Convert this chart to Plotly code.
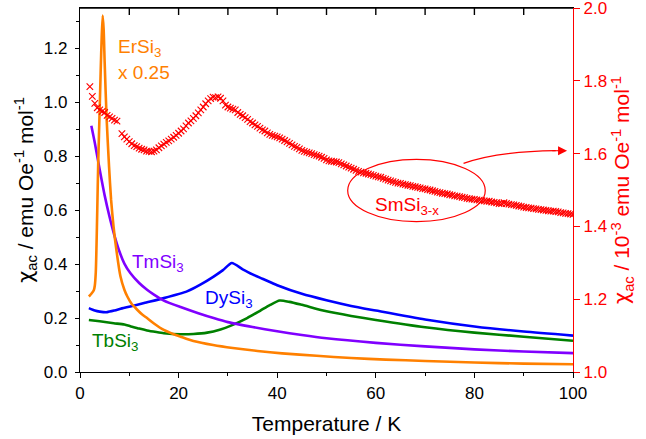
import plotly.graph_objects as go

# ---------------- data ----------------
# ErSi3 (scaled x0.25), left axis
er_T = [1.8, 2.3, 2.8, 3.0, 3.2, 3.35, 3.5, 3.7, 4.0, 4.2, 4.4, 4.6, 4.8, 5.0, 5.4, 5.9, 6.3, 6.8,
        7.4, 8.2, 9.0, 9.6, 10.5, 11.6, 12.5, 13.6, 15.0, 17.0, 19.0, 20.4, 23.0, 27.0, 31.0,
        36.0, 41.0, 48.0, 55.0, 62.0, 70.0, 80.0, 90.0, 100.0]
er_chi = [0.280, 0.290, 0.303, 0.320, 0.370, 0.470, 0.600, 0.780, 0.980, 1.120, 1.240, 1.322,
          1.270, 1.150, 0.940, 0.760, 0.640, 0.540, 0.450, 0.355, 0.305, 0.280, 0.252, 0.231,
          0.215, 0.200, 0.180, 0.156, 0.140, 0.131, 0.115, 0.100, 0.089, 0.078, 0.069, 0.060,
          0.052, 0.046, 0.041, 0.035, 0.031, 0.029]

# TmSi3, left axis
tm_T = [2.3, 3.0, 4.0, 5.0, 6.0, 7.0, 8.0, 9.0, 10.2, 12.0, 13.6, 15.0, 17.0, 20.4, 24.0, 27.1,
        30.0, 35.0, 40.0, 45.0, 50.0, 60.0, 70.0, 80.0, 90.0, 100.0]
tm_chi = [0.913, 0.850, 0.750, 0.655, 0.575, 0.505, 0.447, 0.402, 0.367, 0.330, 0.305, 0.287,
          0.265, 0.241, 0.218, 0.200, 0.185, 0.167, 0.151, 0.137, 0.125, 0.108, 0.095, 0.084,
          0.076, 0.070]

# DySi3, left axis
dy_T = [1.8, 3.0, 4.0, 5.5, 7.0, 8.5, 10.2, 13.0, 17.0, 21.7, 24.5, 27.1, 29.0, 30.8, 33.0,
        35.0, 37.0, 40.0, 45.0, 50.0, 55.0, 60.0, 70.0, 80.0, 90.0, 100.0]
dy_chi = [0.237, 0.228, 0.224, 0.222, 0.228, 0.236, 0.243, 0.256, 0.274, 0.299, 0.325, 0.354,
          0.378, 0.404, 0.381, 0.362, 0.346, 0.322, 0.290, 0.266, 0.245, 0.228, 0.195, 0.169,
          0.150, 0.135]

# TbSi3, left axis
tb_T = [1.8, 4.0, 6.85, 9.0, 10.2, 12.0, 13.6, 15.5, 17.0, 20.4, 23.0, 25.8, 28.5, 30.5, 33.9,
        36.6, 38.5, 40.5, 42.5, 45.0, 50.0, 55.0, 60.0, 70.0, 80.0, 90.0, 100.0]
tb_chi = [0.193, 0.188, 0.181, 0.176, 0.170, 0.161, 0.154, 0.148, 0.144, 0.140, 0.141, 0.146,
          0.158, 0.171, 0.200, 0.228, 0.248, 0.265, 0.260, 0.249, 0.225, 0.208, 0.193, 0.166,
          0.146, 0.131, 0.116]

# SmSi3-x, right axis (10^-3 emu Oe^-1 mol^-1)
sm_T = [2.0, 2.5, 3.0, 3.5, 4.0, 4.5, 5.0, 5.5, 6.0, 6.5, 7.0, 7.5] + \
       [8.5 + 0.5 * i for i in range(184)]
sm_chi = [
    1.784, 1.757, 1.738, 1.726, 1.720, 1.716, 1.713, 1.705, 1.701, 1.697, 1.692, 1.689,
    1.655, 1.646, 1.640, 1.633, 1.627, 1.622, 1.619, 1.615, 1.612, 1.610,
    1.607, 1.606, 1.605, 1.607, 1.610, 1.616, 1.621, 1.626, 1.631, 1.635,
    1.640, 1.645, 1.650, 1.656, 1.662, 1.668, 1.676, 1.684, 1.690, 1.697,
    1.704, 1.712, 1.720, 1.728, 1.737, 1.745, 1.751, 1.755, 1.754, 1.756,
    1.752, 1.745, 1.733, 1.728, 1.725, 1.722, 1.720, 1.713, 1.708, 1.704,
    1.699, 1.694, 1.688, 1.684, 1.679, 1.675, 1.670, 1.665, 1.662, 1.657,
    1.653, 1.650, 1.648, 1.646, 1.643, 1.640, 1.636, 1.632, 1.628, 1.624,
    1.620, 1.617, 1.613, 1.609, 1.606, 1.604, 1.602, 1.600, 1.597, 1.595,
    1.593, 1.590, 1.587, 1.583, 1.580, 1.579, 1.578, 1.577, 1.575, 1.572,
    1.569, 1.566, 1.563, 1.560, 1.557, 1.554, 1.551, 1.549, 1.547, 1.546,
    1.544, 1.542, 1.540, 1.538, 1.536, 1.535, 1.532, 1.530, 1.527, 1.525,
    1.523, 1.521, 1.519, 1.518, 1.516, 1.515, 1.513, 1.512, 1.510, 1.509,
    1.507, 1.506, 1.504, 1.503, 1.501, 1.500, 1.498, 1.496, 1.494, 1.493,
    1.491, 1.490, 1.489, 1.487, 1.486, 1.484, 1.483, 1.482, 1.480, 1.479,
    1.477, 1.476, 1.475, 1.474, 1.473, 1.472, 1.471, 1.470, 1.469, 1.469,
    1.467, 1.466, 1.465, 1.463, 1.463, 1.465, 1.463, 1.461, 1.460, 1.459,
    1.458, 1.456, 1.455, 1.453, 1.452, 1.451, 1.450, 1.449, 1.448, 1.447,
    1.446, 1.445, 1.444, 1.443, 1.442, 1.442, 1.441, 1.440, 1.438, 1.437,
    1.436, 1.435, 1.434, 1.433,
]

# axis tick values
x_ticks = [0, 20, 40, 60, 80, 100]
x_top_ticks = [10, 20, 30, 40, 50, 60, 70, 80, 90]
y_ticks = [0.0, 0.2, 0.4, 0.6, 0.8, 1.0, 1.2]
y2_ticks = [1.0, 1.2, 1.4, 1.6, 1.8, 2.0]

ORANGE = "#FF8000"
PURPLE = "#8000FF"
BLUE = "#0000FF"
GREEN = "#008000"
RED = "#FF0000"
FONT = "Liberation Sans, Arial, sans-serif"
CHI = '<span style="font-family:\'DejaVu Sans\'">χ</span>'

PLOT_H = 439 - 8 - 67  # plot-area height in px

fig = go.Figure()

fig.add_trace(go.Scatter(
    x=sm_T, y=sm_chi, mode="markers", xaxis="x", yaxis="y2",
    marker=dict(symbol="x-thin", size=6.5, line=dict(color=RED, width=1.15), color=RED),
))

LW = 2.6
for T, chi, col in [(tb_T, tb_chi, GREEN), (dy_T, dy_chi, BLUE),
                    (tm_T, tm_chi, PURPLE), (er_T, er_chi, ORANGE)]:
    fig.add_trace(go.Scatter(x=T, y=chi, mode="lines", xaxis="x", yaxis="y",
                             line=dict(color=col, width=LW, shape="spline", smoothing=0.6)))

axis_common = dict(showgrid=False, zeroline=False, showline=True, linewidth=1.4)

fig.update_layout(
    width=646, height=439,
    margin=dict(l=80, r=73, t=8, b=67),
    paper_bgcolor="white", plot_bgcolor="white",
    showlegend=False,
    font=dict(family=FONT, size=17, color="black"),
    xaxis=dict(
        **axis_common, linecolor="black", range=[0, 100], type="linear", mirror=True,
        tickvals=x_ticks, ticks="outside", ticklen=5, tickwidth=1.4, tickcolor="black",
        minor=dict(dtick=10, ticks="outside", ticklen=3, tickwidth=1.4, tickcolor="black"),
        tickfont=dict(size=17, color="black"),
        title=dict(text="Temperature / K", font=dict(size=21), standoff=14),
        anchor="y", automargin=False,
    ),
    yaxis=dict(
        **axis_common, linecolor="black", range=[0, 1.35],
        tickvals=y_ticks, ticktext=[f"{v:.1f}" for v in y_ticks],
        ticks="outside", ticklen=4, tickwidth=1.4, tickcolor="black",
        minor=dict(dtick=0.1, ticks="outside", ticklen=2.5, tickwidth=1.4, tickcolor="black"),
        tickfont=dict(size=17, color="black"), ticklabelstandoff=4,
        title=dict(text=CHI + "<sub>ac</sub> / emu Oe<sup>-1</sup> mol<sup>-1</sup>",
                   font=dict(size=21), standoff=4),
        automargin=False,
    ),
    yaxis2=dict(
        **axis_common, linecolor=RED, range=[1.0, 2.0], overlaying="y", side="right",
        anchor="x", tickvals=y2_ticks, ticktext=[f"{v:.1f}" for v in y2_ticks],
        ticks="outside", ticklen=6, tickwidth=1.4, tickcolor=RED,
        tickfont=dict(size=17, color=RED), ticklabeloverflow="allow",
        title=dict(text=CHI + "<sub>ac</sub> / 10<sup>-3</sup> emu Oe<sup>-1</sup> mol<sup>-1</sup>",
                   font=dict(size=21, color=RED), standoff=8),
        automargin=False,
    ),
)

# top frame line with inward ticks
fig.add_shape(type="line", xref="x domain", yref="y domain", x0=0, x1=1, y0=1, y1=1,
              line=dict(color="black", width=1.4), layer="above")
for t in x_top_ticks:
    fig.add_shape(type="line", xref="x", yref="y domain", x0=t, x1=t,
                  y0=1, y1=1 - 7 / PLOT_H, line=dict(color="black", width=1.4),
                  layer="above")

# data-series labels
labels = [
    ("ErSi<sub>3</sub>", 7.2, 1.20, ORANGE, "y"),
    ("x 0.25", 7.2, 1.112, ORANGE, "y"),
    ("TmSi<sub>3</sub>", 10.2, 0.405, PURPLE, "y"),
    ("DySi<sub>3</sub>", 25.0, 0.272, BLUE, "y"),
    ("TbSi<sub>3</sub>", 2.1, 0.112, GREEN, "y"),
    ("SmSi<sub>3-x</sub>", 59.5, 1.455, RED, "y2"),
]
for txt, x, y, col, yref in labels:
    fig.add_annotation(text=txt, x=x, y=y, xref="x", yref=yref, xanchor="left",
                       yanchor="middle", showarrow=False,
                       font=dict(family=FONT, size=19, color=col))

# ellipse around the SmSi3-x data and curved arrow to its axis
fig.add_shape(type="circle", xref="x", yref="y2", x0=54.3, x1=82.2, y0=1.413, y1=1.584,
              line=dict(color=RED, width=1.2))
fig.add_shape(type="path", xref="x", yref="y2",
              path="M 77.8,1.573 Q 84.5,1.606 96.5,1.608",
              line=dict(color=RED, width=1.2))
fig.add_annotation(x=98.8, y=1.608, xref="x", yref="y2", ax=95.5, ay=1.6078,
                   axref="x", ayref="y2", text="", showarrow=True, arrowhead=2,
                   arrowsize=1.5, arrowwidth=1.2, arrowcolor=RED, standoff=0)

fig.write_html("out.html")
